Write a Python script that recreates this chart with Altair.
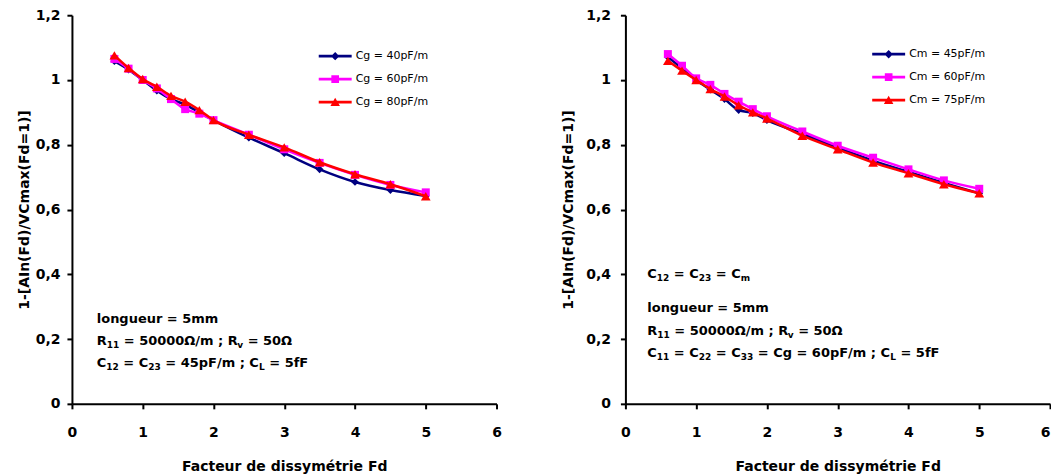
import altair as alt
import pandas as pd

FONT = "DejaVu Sans"

# ---------------- data ----------------
fd = [0.6, 0.8, 1.0, 1.2, 1.4, 1.6, 1.8, 2.0, 2.5, 3.0, 3.5, 4.0, 4.5, 5.0]

left_names = ["Cg = 40pF/m", "Cg = 60pF/m", "Cg = 80pF/m"]
cg40 = [1.058, 1.032, 1.000, 0.967, 0.941, 0.924, 0.900, 0.876, 0.822, 0.774, 0.724, 0.685, 0.660, 0.642]
cg60 = [1.065, 1.035, 1.000, 0.974, 0.941, 0.910, 0.896, 0.876, 0.831, 0.786, 0.744, 0.707, 0.676, 0.653]
cg80 = [1.076, 1.037, 1.003, 0.979, 0.951, 0.933, 0.907, 0.876, 0.831, 0.792, 0.746, 0.709, 0.678, 0.641]

right_names = ["Cm = 45pF/m", "Cm = 60pF/m", "Cm = 75pF/m"]
cm45 = [1.071, 1.036, 1.000, 0.970, 0.941, 0.907, 0.898, 0.876, 0.834, 0.791, 0.751, 0.716, 0.682, 0.650]
cm60 = [1.080, 1.044, 1.005, 0.985, 0.957, 0.933, 0.910, 0.888, 0.841, 0.797, 0.760, 0.724, 0.690, 0.664]
cm75 = [1.059, 1.029, 1.000, 0.972, 0.949, 0.922, 0.900, 0.881, 0.828, 0.786, 0.745, 0.712, 0.678, 0.650]

x_ticks = [0, 1, 2, 3, 4, 5, 6]
y_ticks = [0, 0.2, 0.4, 0.6, 0.8, 1.0, 1.2]

x_title = "Facteur de dissymétrie Fd"
y_title = "1-[AIn(Fd)/VCmax(Fd=1)]"

left_notes = [
    [("longueur = 5mm", False)],
    [("R", False), ("11", True), (" = 50000Ω/m ; R", False), ("v", True), (" = 50Ω", False)],
    [("C", False), ("12", True), (" = C", False), ("23", True), (" = 45pF/m ; C", False), ("L", True), (" = 5fF", False)],
]
right_notes = [
    [("C", False), ("12", True), (" = C", False), ("23", True), (" = C", False), ("m", True)],
    [("longueur = 5mm", False)],
    [("R", False), ("11", True), (" = 50000Ω/m ; R", False), ("v", True), (" = 50Ω", False)],
    [("C", False), ("11", True), (" = C", False), ("22", True), (" = C", False), ("33", True),
     (" = Cg = 60pF/m ; C", False), ("L", True), (" = 5fF", False)],
]

# ---------------- layout / style ----------------
W, H = 425, 389
PX_PER_X = W / 6.0
COLORS = ["#000080", "#FF00FF", "#FF0000"]
SHAPES = ["diamond", "square", "triangle-up"]
SIZES = [60, 64, 95]
FS_MAIN, FS_SUB = 13, 9

# DejaVu Sans Bold advance widths (em)
WID = {' ': 0.348, '=': 0.838, ';': 0.400, '/': 0.365, 'C': 0.734, 'R': 0.770, 'L': 0.637,
       'F': 0.683, 'Ω': 0.800, 'l': 0.343, 'o': 0.687, 'n': 0.712, 'g': 0.716, 'u': 0.712,
       'e': 0.678, 'r': 0.493, 'm': 1.042, 'p': 0.716, 'f': 0.435, 'v': 0.652}
for d in "0123456789":
    WID[d] = 0.696


def text_width(s, fs):
    return sum(WID.get(ch, 0.65) for ch in s) * fs


def note_frame(lines, x0, ys):
    rows = []
    for line, y in zip(lines, ys):
        off = 0.0
        for txt, sub in line:
            fs = FS_SUB if sub else FS_MAIN
            lead = len(txt) - len(txt.lstrip(' '))
            px = off + text_width(' ' * lead, fs)
            rows.append({"fd": x0 + px / PX_PER_X, "v": y, "t": txt.strip(' '), "sub": sub})
            off += text_width(txt, fs)
    return pd.DataFrame(rows)


# legend symbols: line segment + marker (unit = sqrt(size)/2 = 7px)
CX = -1.357
BAR = "M-3.71,-0.19L1,-0.19L1,0.19L-3.71,0.19Z"
LEG_PATHS = [
    BAR + f"M{CX},-0.6L{CX+0.6},0L{CX},0.6L{CX-0.6},0Z",
    BAR + f"M{CX-0.55},-0.55L{CX+0.55},-0.55L{CX+0.55},0.55L{CX-0.55},0.55Z",
    BAR + f"M{CX},-0.64L{CX+0.68},0.54L{CX-0.68},0.54Z",
]


def panel(names, values, notes, note_x, note_ys, leg_x, leg_y, lab_pad, title_pad, x_align):
    df = pd.DataFrame([{"fd": f, "v": v, "serie": n}
                       for n, vals in zip(names, values) for f, v in zip(fd, vals)])
    X = alt.X("fd:Q", scale=alt.Scale(domain=[0, 6], nice=False, zero=False),
              axis=alt.Axis(values=x_ticks, format="d", title=x_title, grid=False,
                            labelPadding=17, titlePadding=20, labelFlush=False,
                            labelAlign=x_align))
    Y = alt.Y("v:Q", scale=alt.Scale(domain=[0, 1.2], nice=False),
              axis=alt.Axis(values=y_ticks, format="~g", labelExpr="replace(datum.label, '.', ',')",
                            title=y_title, grid=False, labelPadding=lab_pad, titlePadding=title_pad,
                            labelFlush=False))
    base = alt.Chart(df)
    layers = []
    for i, name in enumerate(names):
        sub = base.transform_filter(alt.datum.serie == name)
        layers.append(sub.mark_line(strokeWidth=2.5, interpolate="monotone", color=COLORS[i]).encode(
            x=X, y=Y))
        layers.append(sub.mark_point(shape=SHAPES[i], size=SIZES[i], filled=True, opacity=1,
                                     color=COLORS[i]).encode(x=X, y=Y))
    leg = alt.Legend(orient="none", legendX=leg_x, legendY=leg_y, title=None, symbolSize=196,
                     symbolStrokeWidth=0, symbolOpacity=1, labelFont=FONT, labelFontSize=11,
                     labelColor="black", labelOffset=4, rowPadding=11, padding=0, labelLimit=300)
    layers.append(base.mark_point(filled=True, opacity=0).encode(
        x=X, y=Y,
        color=alt.Color("serie:N", scale=alt.Scale(domain=names, range=COLORS), legend=leg),
        shape=alt.Shape("serie:N", scale=alt.Scale(domain=names, range=LEG_PATHS), legend=leg)))
    nf = note_frame(notes, note_x, note_ys)
    nb = alt.Chart(nf)
    layers.append(nb.transform_filter("!datum.sub").mark_text(
        align="left", baseline="alphabetic", font=FONT, fontSize=FS_MAIN, fontWeight="bold",
        color="black").encode(x=X, y=Y, text="t:N"))
    layers.append(nb.transform_filter("datum.sub").mark_text(
        align="left", baseline="alphabetic", font=FONT, fontSize=FS_SUB, fontWeight="bold",
        color="black", dy=3).encode(x=X, y=Y, text="t:N"))
    return alt.layer(*layers).properties(width=W, height=H)


left = panel(left_names, [cg40, cg60, cg80], left_notes, 0.351, [0.250, 0.182, 0.114],
             266, 34, 7, 4, "center")
right = panel(right_names, [cm45, cm60, cm75], right_notes, 0.309, [0.389, 0.284, 0.213, 0.145],
              266, 32, 10, 10, {"expr": "datum.value == 6 ? 'right' : 'center'"})

chart = alt.hconcat(left, right, spacing=60).resolve_scale(
    color="independent", shape="independent"
).resolve_legend(color="independent", shape="independent").properties(
    padding={"left": 9, "top": 0, "right": 0, "bottom": 0}
).configure_view(stroke=None).configure_axis(
    domainColor="black", domainWidth=2, tickColor="black", tickWidth=2, tickSize=5,
    labelFont=FONT, labelFontSize=14, labelFontWeight="bold", labelColor="black",
    titleFont=FONT, titleFontSize=14, titleFontWeight="bold", titleColor="black"
)

chart.save("out.html", embed_options={"renderer": "svg", "actions": False})
